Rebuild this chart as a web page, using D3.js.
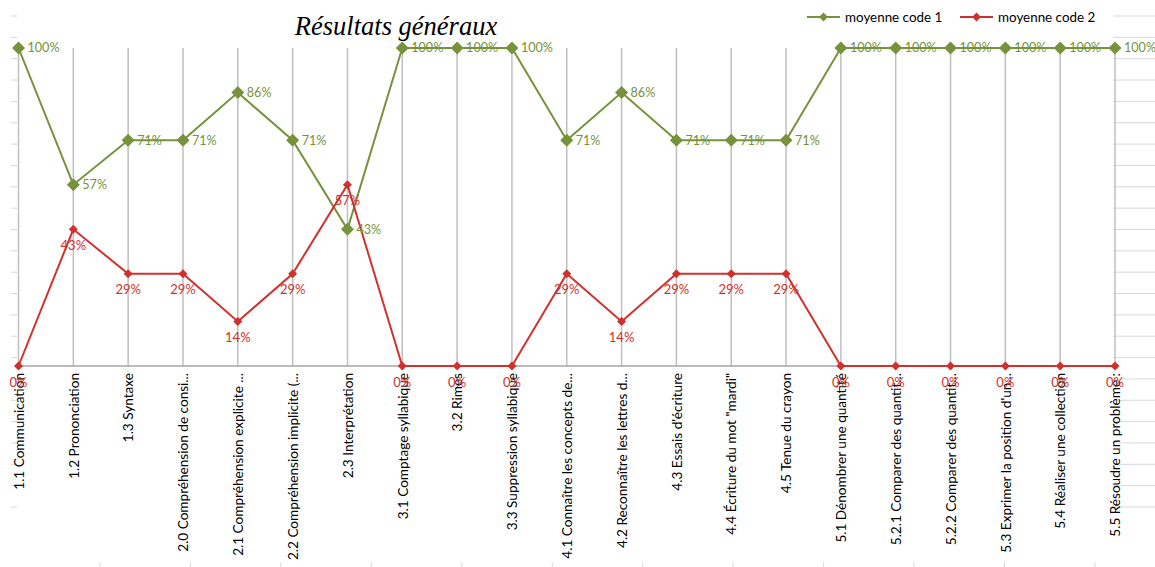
<!DOCTYPE html>
<html>
<head>
<meta charset="utf-8">
<script src="https://cdn.jsdelivr.net/npm/d3@7"></script>
<style>
  body { margin: 0; background: #fff; }
  svg { display: block; }
</style>
</head>
<body>
<svg id="chart" width="1155" height="567"></svg>
<script>
var categories = [
	"1.1 Communication", "1.2 Prononciation", "1.3 Syntaxe",
	"2.0 Compréhension de consi...", "2.1 Compréhension explicite ...",
	"2.2 Compréhension implicite (...", "2.3 Interprétation",
	"3.1 Comptage syllabique", "3.2 Rimes", "3.3 Suppression syllabique",
	"4.1 Connaître les concepts de...", "4.2 Reconnaître les lettres d...",
	"4.3 Essais d'écriture", "4.4 Écriture du mot \"mardi\"", "4.5 Tenue du crayon",
	"5.1 Dénombrer une quantité", "5.2.1 Comparer des quantit...",
	"5.2.2 Comparer des quantit...", "5.3 Exprimer la position d'un...",
	"5.4 Réaliser une collection", "5.5 Résoudre un problème :"
];
var code1 = [100, 57, 71, 71, 86, 71, 43, 100, 100, 100, 71, 86, 71, 71, 71, 100, 100, 100, 100, 100, 100];
var code2 = [0, 43, 29, 29, 14, 29, 57, 0, 0, 0, 29, 14, 29, 29, 29, 0, 0, 0, 0, 0, 0];
var seriesNames = ["moyenne code 1", "moyenne code 2"];
var chartTitle = "Résultats généraux";

var green = "#76933c", red = "#d0312d";
var font = "Lato, 'Open Sans', sans-serif";

var svg = d3.select("#chart");

// faint leftovers of the sheet grid behind the chart
var bgY = d3.scaleLinear().domain([0, 23]).range([16, 507]);
var bgX = d3.scaleLinear().domain([0, 11]).range([100, 1095]);
var bg = svg.append("g").attr("stroke", "#d9d9d9").attr("stroke-width", 1);
d3.range(24).forEach(function(i){
	bg.append("line").attr("x1", 11).attr("x2", 17).attr("y1", bgY(i)).attr("y2", bgY(i));
	bg.append("line").attr("x1", 1113).attr("x2", 1155).attr("y1", bgY(i)).attr("y2", bgY(i));
});
d3.range(12).forEach(function(i){
	bg.append("line").attr("x1", bgX(i)).attr("x2", bgX(i)).attr("y1", 562).attr("y2", 567);
});

var x = d3.scalePoint().domain(categories).range([18.5, 1115]),
	y = d3.scaleLinear().domain([0, 100]).range([366, 48]);

// vertical gridlines
svg.append("g")
	.selectAll("line")
	.data(categories)
	.enter().append("line")
	.attr("x1", function(d){ return x(d); })
	.attr("x2", function(d){ return x(d); })
	.attr("y1", y(100))
	.attr("y2", y(0))
	.attr("stroke", "#bfbfbf")
	.attr("stroke-width", 1.5);

// x axis
var xAxis = svg.append("g")
	.attr("transform", "translate(0," + y(0) + ")")
	.call(d3.axisBottom(x).tickSize(0).tickPadding(0));
xAxis.select(".domain").attr("stroke", "#a6a6a6").attr("stroke-width", 1.5)
	.attr("d", "M" + x(categories[0]) + ",0H" + x(categories[categories.length - 1]));
xAxis.selectAll("text")
	.attr("transform", "rotate(-90)")
	.attr("x", -7)
	.attr("y", 0)
	.attr("dy", "0.35em")
	.attr("text-anchor", "end")
	.style("font", "13.6px " + font)
	.attr("fill", "#000");

var line = d3.line()
	.x(function(d, i){ return x(categories[i]); })
	.y(function(d){ return y(d); });

var diamond = function(r){ return "M0," + (-r) + "L" + r + ",0L0," + r + "L" + (-r) + ",0Z"; };

// series 1
svg.append("path").datum(code1)
	.attr("d", line).attr("fill", "none").attr("stroke", green).attr("stroke-width", 2);
svg.append("g").selectAll("path").data(code1).enter().append("path")
	.attr("d", diamond(6.5))
	.attr("transform", function(d, i){ return "translate(" + x(categories[i]) + "," + y(d) + ")"; })
	.attr("fill", green);

// series 2
svg.append("path").datum(code2)
	.attr("d", line).attr("fill", "none").attr("stroke", red).attr("stroke-width", 2);
svg.append("g").selectAll("path").data(code2).enter().append("path")
	.attr("d", diamond(4.5))
	.attr("transform", function(d, i){ return "translate(" + x(categories[i]) + "," + y(d) + ")"; })
	.attr("fill", red);

// data labels
svg.append("g").selectAll("text").data(code1).enter().append("text")
	.attr("x", function(d, i){ return x(categories[i]) + 9; })
	.attr("y", function(d){ return y(d); })
	.attr("dy", "0.35em")
	.style("font", "12.6px " + font)
	.attr("fill", green)
	.text(function(d){ return d + "%"; });

svg.append("g").selectAll("text").data(code2).enter().append("text")
	.attr("x", function(d, i){ return x(categories[i]); })
	.attr("y", function(d){ return y(d) + 16; })
	.attr("dy", "0.35em")
	.attr("text-anchor", "middle")
	.style("font", "13px " + font)
	.attr("fill", red)
	.text(function(d){ return d + "%"; });

// title
svg.append("text")
	.attr("x", 396)
	.attr("y", 35)
	.attr("text-anchor", "middle")
	.style("font", "italic 26.5px 'Liberation Serif', 'DejaVu Serif', serif")
	.attr("fill", "#000")
	.text(chartTitle);

// legend
var legend = svg.append("g").selectAll("g")
	.data(seriesNames)
	.enter().append("g")
	.attr("transform", function(d, i){ return "translate(" + (807 + i * 153) + ",17)"; });
legend.append("line")
	.attr("x1", 0).attr("x2", 33)
	.attr("stroke", function(d, i){ return i === 0 ? green : red; })
	.attr("stroke-width", 2);
legend.append("path")
	.attr("d", diamond(4.5))
	.attr("transform", "translate(16.5,0)")
	.attr("fill", function(d, i){ return i === 0 ? green : red; });
legend.append("text")
	.attr("x", 38)
	.attr("dy", "0.35em")
	.style("font", "13.4px " + font)
	.attr("fill", "#000")
	.text(function(d){ return d; });
</script>
</body>
</html>
